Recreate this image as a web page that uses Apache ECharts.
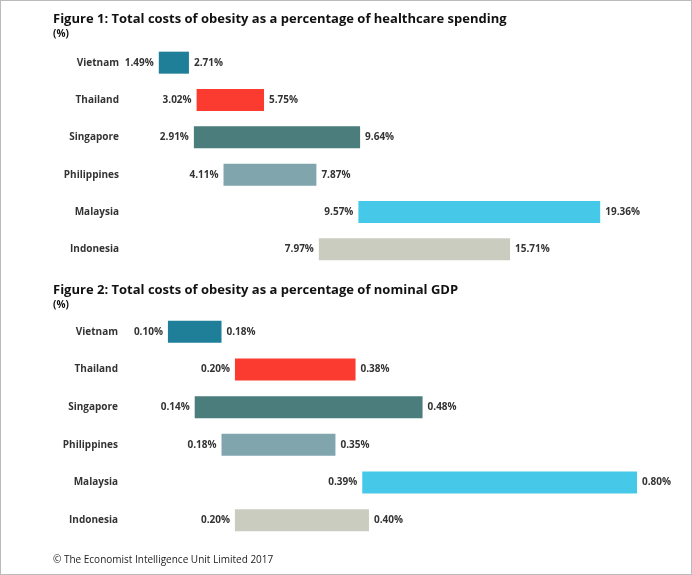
<!DOCTYPE html>
<html><head><meta charset="utf-8">
<script src="https://cdn.jsdelivr.net/npm/echarts@6/dist/echarts.min.js"></script>
<style>
html,body{margin:0;padding:0;background:#fff}
#c{width:690px;height:573px;border:1px solid #bbb}
</style></head>
<body><div id="c"></div>
<script>
var countries = ['Vietnam','Thailand','Singapore','Philippines','Malaysia','Indonesia'];
var colors = ['#1f7f98','#fb3b2f','#4a7d7b','#80a5ad','#46c9e9','#cbccc0'];
var healthLow = [1.49,3.02,2.91,4.11,9.57,7.97];
var healthHigh = [2.71,5.75,9.64,7.87,19.36,15.71];
var gdpLow = [0.10,0.20,0.14,0.18,0.39,0.20];
var gdpHigh = [0.18,0.38,0.48,0.35,0.80,0.40];

var font = '"Liberation Sans Narrow","Open Sans",sans-serif';
var chart = echarts.init(document.getElementById('c'));

function pairSeries(idx, low, high){
  return [{
    type:'bar', stack:'s'+idx, xAxisIndex:idx, yAxisIndex:idx, barWidth:22,
    itemStyle:{color:'transparent'}, data:low,
    label:{show:true, position:'insideRight', distance:5, color:'#333', fontSize:10, fontFamily:font, fontWeight:'bold',
      formatter:function(p){return low[p.dataIndex].toFixed(2)+'%';}},
    silent:true
  },{
    type:'bar', stack:'s'+idx, xAxisIndex:idx, yAxisIndex:idx, barWidth:22,
    data:high.map(function(h,i){return {value:+(h-low[i]).toFixed(4), itemStyle:{color:colors[i]}};}),
    label:{show:true, position:'right', distance:5, color:'#333', fontSize:10, fontFamily:font, fontWeight:'bold',
      formatter:function(p){return high[p.dataIndex].toFixed(2)+'%';}}
  }];
}

function yAx(idx){
  return {type:'category', gridIndex:idx, data:countries, inverse:true,
    axisLine:{show:false}, axisTick:{show:false},
    axisLabel:{color:'#333', fontSize:10, fontFamily:font, fontWeight:'bold', margin:3}};
}
function xAx(idx, min, max){
  return {type:'value', gridIndex:idx, min:min, max:max, show:false};
}

chart.setOption({
  animation:false,
  title:[
    {text:'Figure 1: Total costs of obesity as a percentage of healthcare spending', subtext:'(%)', left:47, top:7, itemGap:3,
      textStyle:{fontSize:13, fontWeight:'bold', color:'#111', fontFamily:font},
      subtextStyle:{fontSize:10, fontWeight:'bold', color:'#111', fontFamily:font}},
    {text:'Figure 2: Total costs of obesity as a percentage of nominal GDP', subtext:'(%)', left:47, top:278, itemGap:3,
      textStyle:{fontSize:13, fontWeight:'bold', color:'#111', fontFamily:font},
      subtextStyle:{fontSize:10, fontWeight:'bold', color:'#111', fontFamily:font}},
    {text:'\u00a9 The Economist Intelligence Unit Limited 2017', left:47, top:549,
      textStyle:{fontSize:10, fontWeight:'normal', color:'#222', fontFamily:font}}
  ],
  grid:[
    {left:121, top:43, width:494, height:224},
    {left:120, top:312, width:516, height:226}
  ],
  xAxis:[xAx(0,0,20), xAx(1,0.03,0.8)],
  yAxis:[yAx(0), yAx(1)],
  series:pairSeries(0, healthLow, healthHigh).concat(pairSeries(1, gdpLow, gdpHigh))
});
</script></body></html>
